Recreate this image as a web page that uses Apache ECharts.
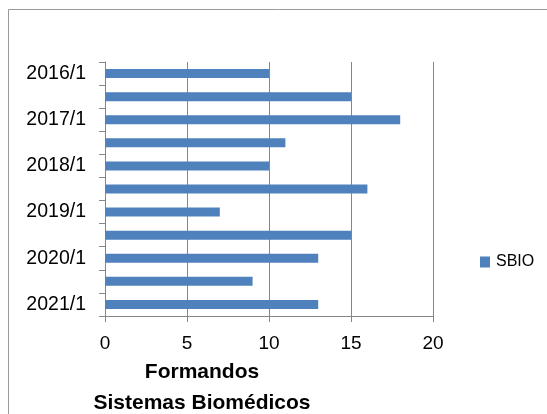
<!DOCTYPE html>
<html>
<head>
<meta charset="utf-8">
<script src="https://cdn.jsdelivr.net/npm/echarts@6/dist/echarts.min.js"></script>
<style>
  html, body { margin: 0; padding: 0; background: #fff; }
  #chart { width: 547px; height: 414px; }
</style>
</head>
<body>
<div id="chart"></div>
<script>
// Semesters (every other one is labelled on the axis)
const semesters = ['2016/1', '2016/2', '2017/1', '2017/2', '2018/1', '2018/2',
                   '2019/1', '2019/2', '2020/1', '2020/2', '2021/1'];
// Graduates of the SBIO programme per semester
const sbio = [10, 15, 18, 11, 10, 16, 7, 15, 13, 9, 13];
const valueTicks = { min: 0, max: 20, interval: 5 };
const seriesName = 'SBIO';
const titleLines = ['Formandos', 'Sistemas Biomédicos'];

const FONT = '"Liberation Sans", Arial, sans-serif';
const GRAY = '#868686';

const chart = echarts.init(document.getElementById('chart'), null, { renderer: 'canvas' });
chart.setOption({
  animation: false,
  backgroundColor: '#ffffff',
  graphic: [{
    type: 'rect',
    shape: { x: 8.5, y: 9.5, width: 600, height: 500 },
    style: { fill: 'none', stroke: '#9a9a9a', lineWidth: 1 },
    silent: true
  }],
  title: {
    text: titleLines.join('\n'),
    left: 197,
    top: 352,
    textAlign: 'center',
    textStyle: { fontFamily: FONT, fontSize: 21, fontWeight: 'bold', color: '#000', lineHeight: 31 }
  },
  legend: {
    data: [{ name: seriesName, icon: 'rect' }],
    left: 475,
    top: 249,
    itemWidth: 10,
    itemHeight: 11,
    itemGap: 5,
    itemStyle: { borderWidth: 0 },
    textStyle: { fontFamily: FONT, fontSize: 16, color: '#000', padding: [0, 0, 0, 1] }
  },
  grid: { left: 105, top: 62, width: 328, height: 254, containLabel: false },
  xAxis: {
    type: 'value',
    min: valueTicks.min,
    max: valueTicks.max,
    interval: valueTicks.interval,
    axisLine: { show: true, lineStyle: { color: GRAY, width: 1 } },
    axisTick: { show: true, length: 6, lineStyle: { color: GRAY } },
    splitLine: { show: true, lineStyle: { color: GRAY, width: 1 } },
    axisLabel: { fontFamily: FONT, fontSize: 19, color: '#000', margin: 18 }
  },
  yAxis: {
    type: 'category',
    data: semesters,
    inverse: true,
    boundaryGap: true,
    axisLine: { show: true, lineStyle: { color: GRAY, width: 1 } },
    axisTick: { show: true, length: 6, interval: 0, alignWithLabel: false, lineStyle: { color: GRAY } },
    splitLine: { show: false },
    axisLabel: { interval: 1, fontFamily: FONT, fontSize: 19.5, color: '#000', margin: 19 }
  },
  series: [{
    name: seriesName,
    type: 'bar',
    data: sbio,
    barWidth: 9,
    itemStyle: { color: '#4F81BD' }
  }]
});
</script>
</body>
</html>
